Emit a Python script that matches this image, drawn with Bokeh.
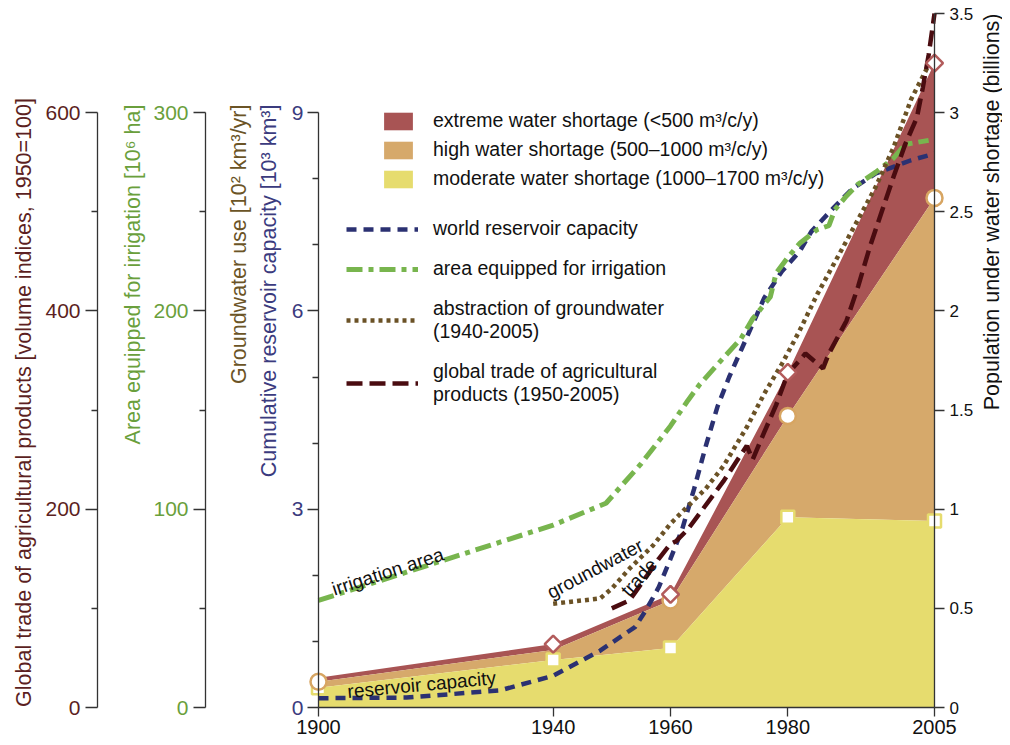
import math
import numpy as np
from bokeh.plotting import figure
from bokeh.models import (Range1d, LinearAxis, FixedTicker, NumeralTickFormatter,
                          ColumnDataSource, Legend, LegendItem, Label)
from bokeh.embed import file_html
from bokeh.resources import INLINE

# ---------------- data ----------------
shortage_years = [1900, 1940, 1960, 1980, 2005]
moderate = [0.10, 0.24, 0.30, 0.96, 0.94]   # billions, 1000-1700 m3/c/y
high = [0.03, 0.05, 0.24, 0.51, 1.63]       # billions, 500-1000 m3/c/y
extreme = [0.02, 0.03, 0.03, 0.22, 0.68]    # billions, <500 m3/c/y
square_years = [1900, 1940, 1960, 1980, 2005]
circle_years = [1900, 1960, 1980, 2005]
diamond_years = [1940, 1960, 1980, 2005]

res_years = [1900, 1915, 1931, 1940, 1948, 1954, 1956, 1958, 1960, 1962, 1964, 1966, 1968,
             1970, 1972, 1974, 1976, 1979, 1982, 1984, 1988, 1991, 1995, 1998, 2001, 2005]
reservoir = [0.14, 0.15, 0.26, 0.48, 0.86, 1.22, 1.5, 1.82, 2.25, 2.7, 3.3, 3.95, 4.55,
             5.0, 5.4, 5.8, 6.2, 6.6, 6.9, 7.2, 7.58, 7.85, 8.08, 8.18, 8.28, 8.38]

irr_years = [1900, 1940, 1949, 1955, 1960, 1963, 1965, 1968, 1972, 1974, 1977, 1978, 1980,
             1982, 1985, 1987, 1988, 1990, 1992, 1995, 1998, 2000, 2002, 2004]
irrigation = [54, 92, 103, 123, 142, 155, 163, 173, 186, 196, 207, 219, 227,
              234, 241, 243, 251, 258, 264, 270, 277, 284, 285, 286]

gw_years = [1940, 1948, 1950, 1953, 1957, 1960, 1963, 1966, 1969, 1973, 1976, 1979, 1982,
            1985, 1990, 1995, 1998, 2001, 2004]
groundwater = [1.57, 1.65, 1.8, 2.1, 2.45, 2.78, 3.05, 3.31, 3.65, 4.24, 4.75, 5.2, 5.7,
               6.25, 7.06, 7.88, 8.47, 9.2, 9.72]

trade_years = [1950, 1953, 1956, 1958, 1960, 1961, 1963, 1965, 1967, 1969, 1972, 1973, 1974,
               1976, 1978, 1980, 1982, 1983, 1986, 1987, 1990, 1992, 1994, 1996, 1998, 2000,
               2002, 2003, 2004, 2005]
trade = [100, 108, 133, 150, 165, 168, 180, 196, 212, 228, 255, 264, 250,
         278, 305, 337, 350, 357, 342, 357, 390, 425, 465, 500, 535, 568,
         595, 625, 658, 700]

x_ticks = [1900, 1940, 1960, 1980, 2005]
pop_ticks = [0, 0.5, 1, 1.5, 2, 2.5, 3, 3.5]
res_ticks = [0, 3, 6, 9]
irr_ticks = [0, 100, 200, 300]
trade_ticks = [0, 200, 400, 600]

# ---------------- colours / fonts ----------------
FONT = "Liberation Sans"
C_YEL = "#e6dc6e"
C_TAN = "#d6a96b"
C_RED = "#a85454"
C_CIRC = "#d7a562"
C_DIAM = "#b25b5b"
C_NAVY = "#2b3172"
C_GREEN = "#78b54e"
C_BROWN = "#6b5226"
C_TRADE = "#4a0c10"
T_TRADE = "#5c1f22"
T_GREEN = "#6a9f3c"
T_BROWN = "#6b5426"
T_NAVY = "#3b3b7e"
AX = "#333333"

# ---------------- layout geometry (pixels) ----------------
W, H = 1002, 737
FX0, FX1, FY_TOP, FY_BOT = 318, 934, 13, 707     # where 1900/2005 and 0/10.5 sit
KX = (FX1 - FX0) / 105.0
KY = (FY_BOT - FY_TOP) / 10.5
X0 = 1900 - FX0 / KX
X1 = X0 + W / KX
Y0 = -(H - FY_BOT) / KY
Y1 = FY_BOT / KY


def sx2year(sx):
    return X0 + sx / KX


def sy2main(sy):
    return (FY_BOT - sy) / KY


p = figure(width=W, height=H, output_backend="svg", toolbar_location=None,
           x_range=Range1d(X0, X1), y_range=Range1d(Y0, Y1),
           min_border=0, min_border_left=0, min_border_right=0,
           min_border_top=0, min_border_bottom=0)
p.extra_y_ranges = {"irr": Range1d(Y0 * 100 / 3, Y1 * 100 / 3),
                    "trade": Range1d(Y0 * 200 / 3, Y1 * 200 / 3),
                    "pop": Range1d(Y0 / 3, Y1 / 3)}
p.outline_line_color = None
p.xgrid.visible = False
p.ygrid.visible = False
p.background_fill_color = "white"
p.border_fill_color = "white"


def style(ax, txt_color, size="21px", tick_out=12, minor_out=6, standoff=5):
    ax.axis_line_color = AX
    ax.axis_line_width = 1.3
    ax.major_tick_line_color = AX
    ax.major_tick_line_width = 1.3
    ax.minor_tick_line_color = AX
    ax.minor_tick_line_width = 1.3
    ax.major_tick_in = 0
    ax.minor_tick_in = 0
    ax.major_tick_out = tick_out
    ax.minor_tick_out = minor_out
    ax.major_label_standoff = standoff
    ax.major_label_text_font = FONT
    ax.major_label_text_font_size = size
    ax.major_label_text_color = txt_color


# main left axis (reservoir capacity / groundwater)
ya = p.yaxis[0]
ya.ticker = FixedTicker(ticks=res_ticks, minor_ticks=[1, 2, 4, 5, 7, 8])
ya.bounds = (0, 9)
ya.fixed_location = 1900
style(ya, T_NAVY, tick_out=11, standoff=4)

irr_ax = LinearAxis(y_range_name="irr",
                    ticker=FixedTicker(ticks=irr_ticks, minor_ticks=[50, 150, 250]),
                    bounds=(0, 300), fixed_location=sx2year(205))
style(irr_ax, T_GREEN)
p.add_layout(irr_ax, "left")

tr_ax = LinearAxis(y_range_name="trade",
                   ticker=FixedTicker(ticks=trade_ticks, minor_ticks=[100, 300, 500]),
                   bounds=(0, 600), fixed_location=sx2year(97))
style(tr_ax, T_TRADE)
p.add_layout(tr_ax, "left")

# right axis
r_ax = LinearAxis(y_range_name="pop", ticker=FixedTicker(ticks=pop_ticks),
                  formatter=NumeralTickFormatter(format="0.[0]"),
                  bounds=(0, 3.5), fixed_location=2005)
style(r_ax, "#111111", size="17px", tick_out=10, minor_out=0, standoff=5)
p.add_layout(r_ax, "right")

# x axis
xa = p.xaxis[0]
xa.ticker = FixedTicker(ticks=x_ticks)
xa.bounds = (1900, 2005)
xa.fixed_location = 0
style(xa, "#111111", size="20px", tick_out=9, minor_out=0, standoff=3)

# axis titles
def title(sx, sy_end, text, color, align="right"):
    p.add_layout(Label(x=sx2year(sx), y=sy2main(sy_end), text=text, angle=90, angle_units="deg",
                       text_font=FONT, text_font_size="21.5px", text_color=color,
                       text_align=align, text_baseline="middle"))


title(23, 402, "Global trade of agricultural products [volume indices, 1950=100]", T_TRADE,
      align="center")
title(132, 104, "Area equipped for irrigation [10⁶ ha]", T_GREEN)
title(238, 104, "Groundwater use [10² km³/yr]", T_BROWN)
title(268, 104, "Cumulative reservoir capacity [10³ km³]", T_NAVY)
title(991, 13, "Population under water shortage (billions)", "#111111")

# ---------------- stacked areas ----------------
mod_top = np.array(moderate)
high_top = mod_top + np.array(high)
ext_top = high_top + np.array(extreme)
src = ColumnDataSource(dict(year=shortage_years, zero=[0] * len(shortage_years),
                            mod=mod_top, high=high_top, ext=ext_top))
r_ext = p.varea(x="year", y1="high", y2="ext", source=src, y_range_name="pop", fill_color=C_RED)
r_high = p.varea(x="year", y1="mod", y2="high", source=src, y_range_name="pop", fill_color=C_TAN)
r_mod = p.varea(x="year", y1="zero", y2="mod", source=src, y_range_name="pop", fill_color=C_YEL)

# ---------------- lines ----------------
r_res = p.line(res_years, reservoir, line_color=C_NAVY, line_width=4.5, line_dash="10 7")
r_irr = p.line(irr_years, irrigation, y_range_name="irr", line_color=C_GREEN, line_width=5,
               line_dash="16 6 5 6")
r_gw = p.line(gw_years, groundwater, line_color=C_BROWN, line_width=4.5, line_dash="4 4")
r_tr = p.line(trade_years, trade, y_range_name="trade", line_color=C_TRADE, line_width=4.5,
              line_dash="16 7")

# ---------------- markers ----------------
def pick(years, tops):
    return [float(tops[shortage_years.index(y)]) for y in years]


p.scatter(square_years, pick(square_years, mod_top), y_range_name="pop", marker="square",
          size=13, fill_color="white", line_color=C_YEL, line_width=2.5)
p.scatter(circle_years, pick(circle_years, high_top), y_range_name="pop", marker="circle",
          size=16, fill_color="white", line_color=C_CIRC, line_width=2.5)
p.scatter(diamond_years, pick(diamond_years, ext_top), y_range_name="pop", marker="square",
          angle=math.pi / 4, size=12, fill_color="white", line_color=C_DIAM, line_width=2.5)

# ---------------- in-plot labels ----------------
def lab(sx, sy, text, ang):
    p.add_layout(Label(x=sx2year(sx), y=sy2main(sy), text=text, angle=ang, angle_units="deg",
                       text_font=FONT, text_font_size="19px", text_color="#111111",
                       text_baseline="alphabetic", text_align="left"))


lab(332, 589, "irrigation area", 18)
lab(347, 691, "reservoir capacity", 5.3)
lab(548, 593, "groundwater", 28)
lab(624, 593, "trade", 48)

# ---------------- legends ----------------
leg_common = dict(padding=0, margin=0, border_line_color=None, background_fill_alpha=0,
                  label_text_font=FONT, label_text_font_size="19.5px",
                  label_text_color="#111111")
area_leg = Legend(items=[
    LegendItem(label="extreme water shortage (<500 m³/c/y)", renderers=[r_ext]),
    LegendItem(label="high water shortage (500–1000 m³/c/y)", renderers=[r_high]),
    LegendItem(label="moderate water shortage (1000–1700 m³/c/y)", renderers=[r_mod]),
], location=(380, H - 190), glyph_width=36, glyph_height=22, label_height=22,
    label_standoff=17, spacing=6, **leg_common)
p.add_layout(area_leg)

line_leg = Legend(items=[
    LegendItem(label="world reservoir capacity", renderers=[r_res]),
    LegendItem(label="area equipped for irrigation", renderers=[r_irr]),
    LegendItem(label="abstraction of groundwater\n(1940-2005)", renderers=[r_gw]),
    LegendItem(label="global trade of agricultural\nproducts (1950-2005)", renderers=[r_tr]),
], location=(346, H - 406), glyph_width=72, glyph_height=22, label_height=22,
    label_standoff=15, spacing=17, **leg_common)
p.add_layout(line_leg)

open("out.html", "w").write(file_html(p, INLINE))
